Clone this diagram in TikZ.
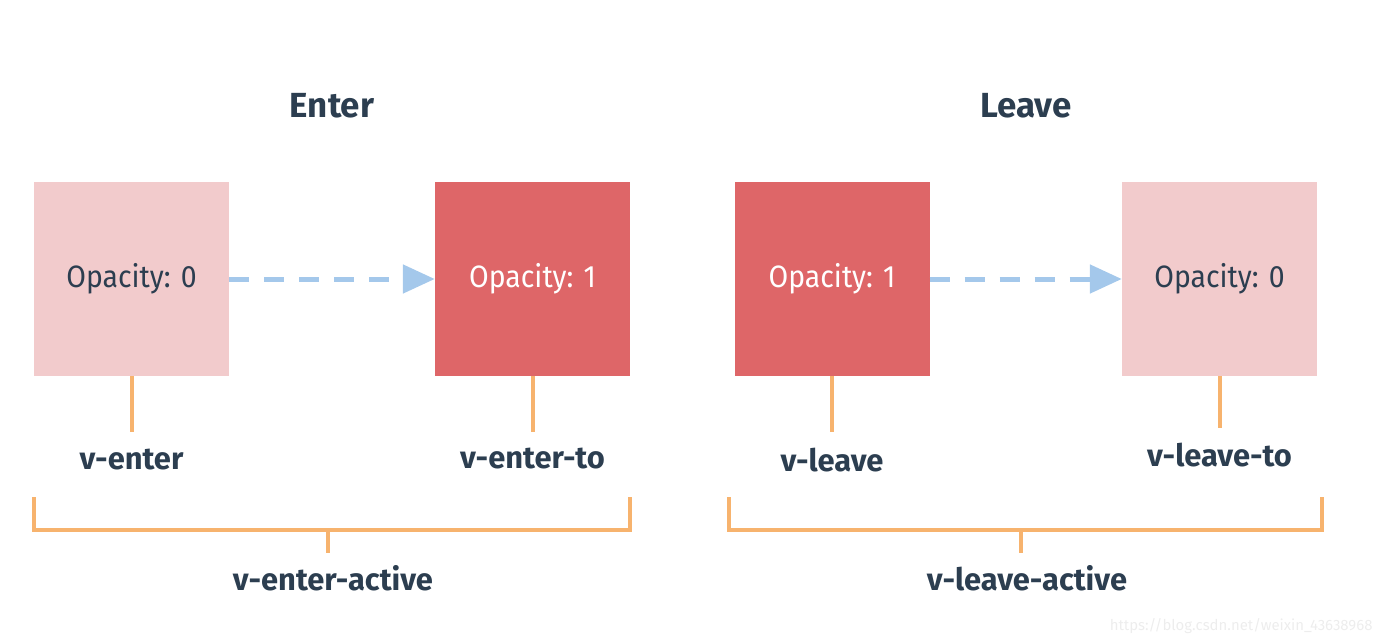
\documentclass[tikz,border=0pt]{standalone}
\usepackage{fontspec}
\setmainfont{Fira Sans}
\newfontfamily\boxfont{Fira Sans}[FakeStretch=0.92]
\usetikzlibrary{positioning, arrows.meta}
\definecolor{palered}{HTML}{F2CBCC}
\definecolor{fullred}{HTML}{DE6668}
\definecolor{ink}{HTML}{2C3E50}
\definecolor{hookorange}{HTML}{F7B36E}
\definecolor{flowblue}{HTML}{A4C8EB}
\tikzset{
  box/.style={minimum width=195bp, minimum height=194bp, inner sep=0pt, font=\boxfont\fontsize{31}{33}\selectfont},
  faint/.style={box, fill=palered, text=ink},
  opaque/.style={box, fill=fullred, text=white},
  hook/.style={draw=hookorange, line width=4bp},
  lbl/.style={font=\bfseries\fontsize{31}{33}\selectfont, text=ink},
  heading/.style={font=\bfseries\fontsize{35}{37}\selectfont, text=ink},
  flow/.style={draw=flowblue, line width=5bp, dash pattern=on 20bp off 15bp, -{Triangle[length=32bp,width=28bp]}}
}
\begin{document}
\begin{tikzpicture}[x=1bp,y=-1bp,on grid]
  \useasboundingbox (0,0) rectangle (1384,644);
  \node[heading] (enterhead) at (332,106) {Enter};
  \node[heading] (leavehead) at (1026,106) {Leave};

  \node[faint] (enter) at (131.5,279) {Opacity: 0};
  \node[opaque] (enterto) at (532.5,279) {Opacity: 1};
  \node[opaque] (leave) at (832,279) {Opacity: 1};
  \node[faint] (leaveto) at (1219.5,279) {Opacity: 0};

  \path[flow] (enter.east) -- (enterto.west);
  \path[flow] (leave.east) -- (leaveto.west);

  \node[lbl] (venter) [below=181bp of enter] {v-enter};
  \node[lbl] (venterto) [below=180bp of enterto] {v-enter-to};
  \node[lbl] (vleave) [below=181bp of leave] {v-leave};
  \node[lbl] (vleaveto) [below=176bp of leaveto] {v-leave-to};

  \draw[hook] (enter.south) -- ++(0,56);
  \draw[hook] (enterto.south) -- ++(0,56);
  \draw[hook] (leave.south) -- ++(0,56);
  \draw[hook] (leaveto.south) -- ++(0,52);

  % brackets
  \draw[hook] (enter.west |- 0,497) -- (enter.west |- 0,530) -- (enterto.east |- 0,530) -- (enterto.east |- 0,497);
  \draw[hook] (328,530) -- (328,553);
  \draw[hook] (729,497) -- (729,530) -- (1322,530) -- (1322,497);
  \draw[hook] (1021,530) -- (1021,553);

  \node[lbl] (enteractive) at (333,578) {v-enter-active};
  \node[lbl] (leaveactive) at (1027,578) {v-leave-active};

  \node[anchor=east, text=black!7, font=\fontsize{15}{16}\selectfont] (mark) at (1376,626) {https://blog.csdn.net/weixin\_43638968};
\end{tikzpicture}
\end{document}
